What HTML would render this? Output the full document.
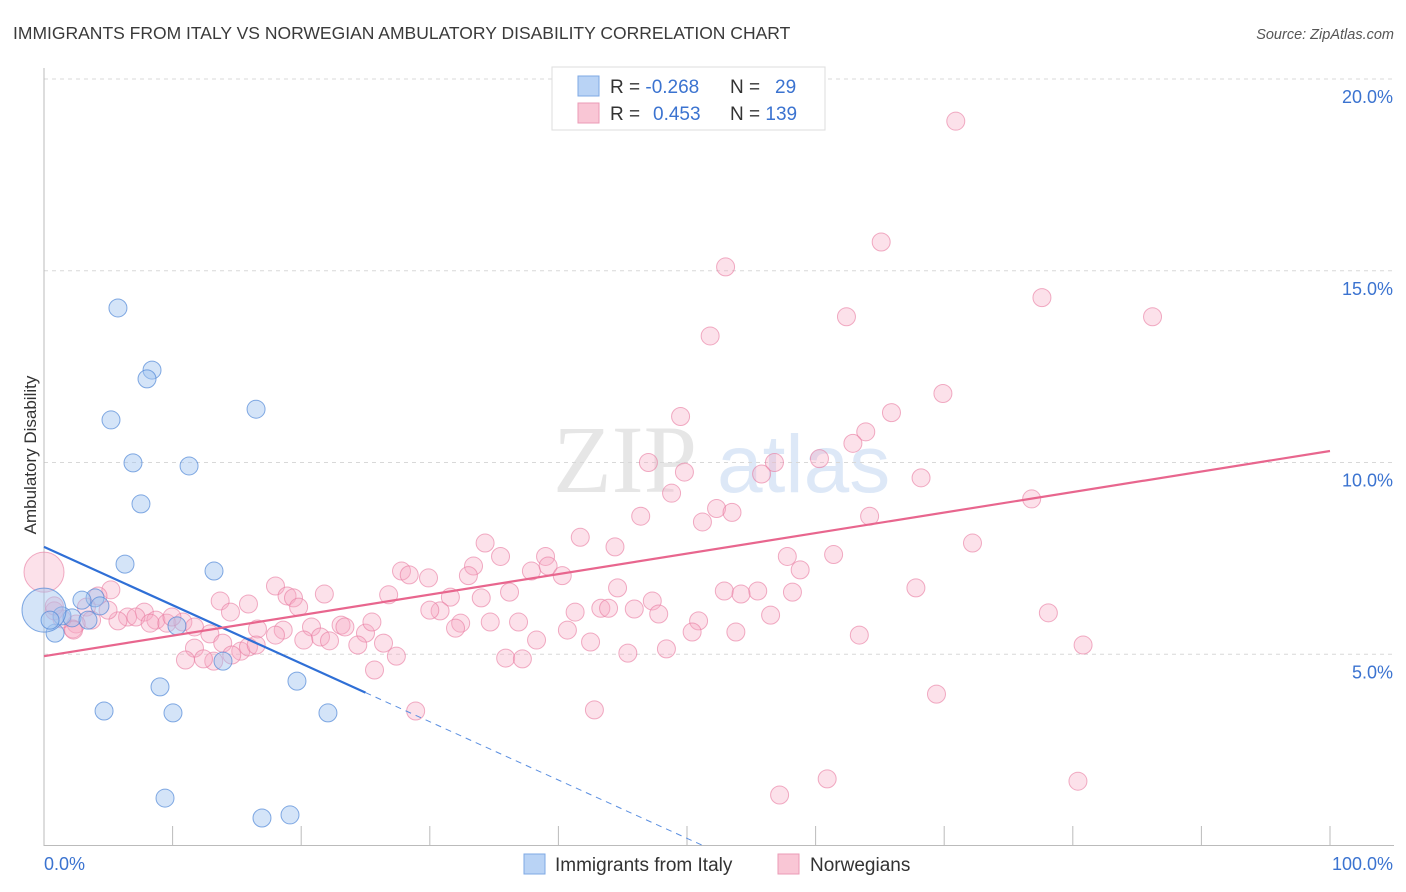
<!DOCTYPE html>
<html><head><meta charset="utf-8">
<style>
body{margin:0;background:#fff;font-family:"Liberation Sans",sans-serif;}
svg{display:block}
</style></head>
<body>
<svg id="chart" width="1406" height="892" xmlns="http://www.w3.org/2000/svg">
<text x="13" y="39" font-size="17.5" fill="#3a3a3a">IMMIGRANTS FROM ITALY VS NORWEGIAN AMBULATORY DISABILITY CORRELATION CHART</text>
<text x="1394" y="39" font-size="14.5" fill="#555" text-anchor="end" font-style="italic">Source: ZipAtlas.com</text>
<g opacity="0.18">
<text x="553" y="492" font-size="96" font-family="Liberation Serif,serif" fill="#777">ZIP</text>
<text x="717" y="492" font-size="82" fill="#4a86d8">atlas</text>
</g>
<g id="grid"></g>
<g id="axes"></g>
<g id="pts"></g>
<g id="lines"></g>
<text x="36" y="455" font-size="17" fill="#333" text-anchor="middle" transform="rotate(-90 36 455)">Ambulatory Disability</text>
<g>
<rect x="552" y="67" width="273" height="63" fill="#fff" stroke="#ddd"/>
<rect x="578" y="76" width="21" height="20" fill="#b9d3f5" stroke="#7ea8e4"/>
<rect x="578" y="103" width="21" height="20" fill="#f9c6d5" stroke="#eb9bb6"/>
<text x="610" y="93" font-size="19" fill="#333">R = <tspan fill="#3b73d0">-0.268</tspan></text>
<text x="730" y="93" font-size="19" fill="#333">N = <tspan fill="#3b73d0" x="775">29</tspan></text>
<text x="610" y="120" font-size="19" fill="#333">R = <tspan fill="#3b73d0" x="653">0.453</tspan></text>
<text x="730" y="120" font-size="19" fill="#333">N = <tspan fill="#3b73d0">139</tspan></text>
</g>
<g>
<rect x="524" y="854" width="21" height="20" fill="#b9d3f5" stroke="#7ea8e4"/>
<text x="555" y="871" font-size="19" fill="#333">Immigrants from Italy</text>
<rect x="778" y="854" width="21" height="20" fill="#f9c6d5" stroke="#eb9bb6"/>
<text x="810" y="871" font-size="19" fill="#333">Norwegians</text>
</g>
</svg>
<script>
const yTicks=[5,10,15,20];
const yTickLabels=["5.0%","10.0%","15.0%","20.0%"];
const xTicks=[0,10,20,30,40,50,60,70,80,90,100];
const italyX=[5.75,8.4,8.01,5.21,6.92,11.28,16.49,7.54,6.3,13.22,3.97,2.95,4.35,1.4,2.18,3.42,0.86,0,10.34,13.92,19.67,9.02,4.67,10.03,22.08,9.41,16.95,19.13,0.47];
const italyY=[14.03,12.41,12.18,11.11,9.99,9.91,11.39,8.92,7.35,7.17,6.47,6.41,6.26,6.0,5.95,5.89,5.55,6.15,5.74,4.82,4.3,4.15,3.52,3.47,3.47,1.25,0.73,0.81,5.89];
const italyBig=[17];
const norX=[70.9,65.1,53.0,77.6,62.4,86.2,51.8,69.9,65.9,49.5,63.9,62.9,60.3,47.0,56.8,49.8,55.8,68.2,48.8,76.8,52.3,46.4,53.5,64.2,51.2,41.7,34.3,72.2,44.4,35.5,39.0,57.8,61.4,33.4,39.2,58.8,37.9,27.8,28.4,33.0,29.9,40.3,18.0,52.9,5.2,15.9,18.9,19.4,21.8,26.8,31.6,34.0,36.2,44.6,55.5,58.2,54.2,67.8,47.3,19.8,30.8,41.3,43.3,43.9,45.9,47.8,56.5,78.1,4.2,3.3,7.8,6.5,5.75,7.15,8.7,8.25,9.55,10.8,11.7,3.7,2.5,2.25,1.4,0.8,12.9,16.6,18.6,20.8,21.5,23.1,23.4,25.0,25.5,32.4,34.7,32.0,36.9,40.7,50.9,50.4,53.8,63.4,20.2,22.2,24.4,26.4,38.3,42.5,11.7,13.9,15.3,14.6,15.9,16.5,11.0,13.2,12.4,27.4,35.9,37.2,45.4,48.4,80.8,25.7,69.4,28.9,42.8,60.9,57.2,80.4,0,13.7,0.8,2.3,4.98,9.95,14.5,18.0,30.0];
const norY=[18.9,15.75,15.1,14.3,13.8,13.8,13.3,11.8,11.3,11.2,10.8,10.5,10.1,10.0,10.0,9.75,9.7,9.6,9.2,9.05,8.8,8.6,8.7,8.6,8.45,8.05,7.9,7.9,7.8,7.55,7.55,7.55,7.6,7.3,7.3,7.2,7.17,7.17,7.07,7.05,6.99,7.05,6.78,6.65,6.68,6.31,6.52,6.47,6.57,6.55,6.49,6.47,6.62,6.73,6.65,6.62,6.57,6.73,6.39,6.23,6.13,6.1,6.2,6.2,6.18,6.05,6.02,6.08,6.52,6.23,6.1,5.97,5.87,5.97,5.89,5.81,5.81,5.84,5.71,5.89,5.79,5.66,5.92,6.13,5.53,5.66,5.63,5.71,5.45,5.76,5.71,5.55,5.84,5.81,5.84,5.68,5.84,5.63,5.87,5.58,5.58,5.5,5.37,5.35,5.24,5.29,5.37,5.32,5.16,5.29,5.08,4.98,5.19,5.24,4.85,4.82,4.88,4.95,4.9,4.88,5.03,5.14,5.24,4.59,3.96,3.52,3.55,1.75,1.33,1.69,7.14,6.39,6.26,5.63,6.15,5.97,6.1,5.5,6.15];
const norBig=[130];
const italyTrend=[7.8,4.0]; // y at x=0 and x=25
const norTrend=[4.95,10.3]; // y at x=0 and x=100

const X0=44,X1=1330,Y0=846,YS=38.35;
const sx=v=>X0+(X1-X0)*v/100;
const sy=v=>Y0-v*YS;
const NS="http://www.w3.org/2000/svg";
function mk(tag,attrs,parent){const e=document.createElementNS(NS,tag);for(const k in attrs)e.setAttribute(k,attrs[k]);parent.appendChild(e);return e;}
const grid=document.getElementById('grid'),axes=document.getElementById('axes'),pts=document.getElementById('pts'),lines=document.getElementById('lines');
yTicks.forEach((t,i)=>{
 const l=mk('line',{x1:44,x2:1394,y1:sy(t),y2:sy(t),stroke:'#d8d8d8','stroke-dasharray':'4,4'},grid);
 
 
 const tx=mk('text',{x:1393,y:sy(t)+24,'font-size':18,fill:'#3b73d0','text-anchor':'end'},axes);
 tx.textContent=yTickLabels[i];
 
 
});
const la=mk('line',{x1:44,x2:44,y1:68,y2:846,stroke:'#bbb'},axes);


const lb=mk('line',{x1:44,x2:1394,y1:845.5,y2:845.5,stroke:'#bbb'},axes);


xTicks.forEach(t=>{
 const k=mk('line',{x1:sx(t),x2:sx(t),y1:826,y2:846,stroke:'#bbb'},axes);
 
 
});
const xl0=mk('text',{x:44,y:870,'font-size':18,fill:'#3b73d0'},axes);
xl0.textContent='0.0%';


const xl1=mk('text',{x:1393,y:870,'font-size':18,fill:'#3b73d0','text-anchor':'end'},axes);
xl1.textContent='100.0%';



norX.forEach((x,i)=>{
 const c=mk('circle',{cx:sx(x),cy:sy(norY[i]),r:norBig.includes(i)?20:9,fill:'rgba(247,170,195,0.35)',stroke:'rgba(232,120,158,0.6)','stroke-width':1},pts);
 
 
});
italyX.forEach((x,i)=>{
 const c=mk('circle',{cx:sx(x),cy:sy(italyY[i]),r:italyBig.includes(i)?22:9,fill:'rgba(160,196,240,0.45)',stroke:'rgba(80,135,215,0.7)','stroke-width':1},pts);
 
 
});
const bs=(italyTrend[1]-italyTrend[0])/25;
const bl=mk('line',{x1:sx(0),y1:sy(italyTrend[0]),x2:sx(25),y2:sy(italyTrend[1]),stroke:'#2f6fd6','stroke-width':2.2},lines);


const xz=-italyTrend[0]/bs;
const bd=mk('line',{x1:sx(25),y1:sy(italyTrend[1]),x2:sx(xz),y2:sy(0),stroke:'#5b8fe0','stroke-width':1,'stroke-dasharray':'6,5'},lines);


const pl=mk('line',{x1:sx(0),y1:sy(norTrend[0]),x2:sx(100),y2:sy(norTrend[1]),stroke:'#e8668e','stroke-width':2.2},lines);


</script>
</body></html>
